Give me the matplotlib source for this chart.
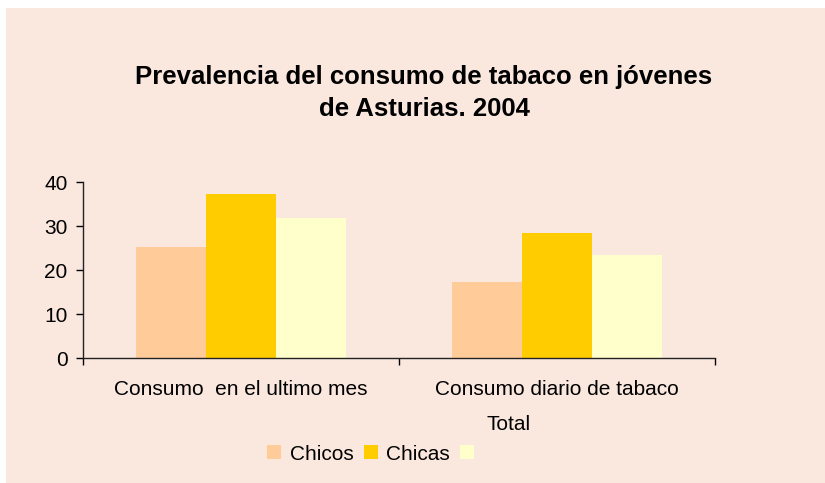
import matplotlib
matplotlib.use("Agg")
import matplotlib.pyplot as plt
from matplotlib.patches import Rectangle, Patch
import numpy as np

categories = ["Consumo  en el ultimo mes", "Consumo diario de tabaco"]
series_names = ["Chicos", "Chicas", ""]
chicos = [25.2, 17.3]
chicas = [37.3, 28.3]
total = [31.9, 23.3]
colors = ["#FFCC99", "#FFCC00", "#FFFFCC"]
title = "Prevalencia del consumo de tabaco en jóvenes\nde Asturias. 2004"
xlabel = "Total"
yticks = [0, 10, 20, 30, 40]

plt.rcParams['font.family'] = ['Liberation Sans', 'DejaVu Sans']
W, H = 825, 483
fig = plt.figure(figsize=(W / 100, H / 100), dpi=100)
fig.patch.set_facecolor("white")
bg = "#FAE8DF"
fig.patches.append(Rectangle((6 / W, 0), 1 - 6 / W, 1 - 8 / H, transform=fig.transFigure,
                             facecolor=bg, edgecolor="none", zorder=-10))

ax = fig.add_axes([83 / W, (H - 358) / H, (715 - 83) / W, (358 - 182) / H])
ax.patch.set_alpha(0)

x = np.arange(len(categories))
bw = 0.222
for i, (vals, c, n) in enumerate(zip([chicos, chicas, total], colors, series_names)):
    ax.bar(x + (i - 1) * bw, vals, width=bw, color=c, edgecolor="none", label=n)

ax.set_xlim(-0.5, 1.5)
ax.set_ylim(0, 40)
ax.set_yticks(yticks)
ax.tick_params(axis="y", labelsize=15, length=5, width=1, direction="out", pad=6, colors="black")
ax.set_xticks([-0.5, 0.5, 1.5])
ax.set_xticklabels([])
ax.set_xticks(x, minor=True)
ax.set_xticklabels(categories, minor=True)
ax.tick_params(axis="x", which="major", length=5, width=1, direction="out")
ax.tick_params(axis="x", which="minor", length=0, labelsize=15, pad=16)
for s in ["top", "right"]:
    ax.spines[s].set_visible(False)
for s in ["left", "bottom"]:
    ax.spines[s].set_color("#222222")
    ax.spines[s].set_linewidth(1)

fig.text(424 / W, 1 - 93 / H, title, ha="center", va="center", fontsize=18.5,
         fontweight="bold", linespacing=1.4)
fig.text(509 / W, 1 - 425 / H, xlabel, ha="center", va="center", fontsize=15)

handles = [Patch(facecolor=c, edgecolor="none") for c in colors]
leg = fig.legend(handles, series_names, loc="center", bbox_to_anchor=(375 / W, 1 - 454 / H),
                 ncol=3, frameon=False, fontsize=15, handlelength=0.67, handleheight=0.67,
                 handletextpad=0.4, columnspacing=0.5, borderpad=0)

fig.savefig("out.png", dpi=100, facecolor="white")
